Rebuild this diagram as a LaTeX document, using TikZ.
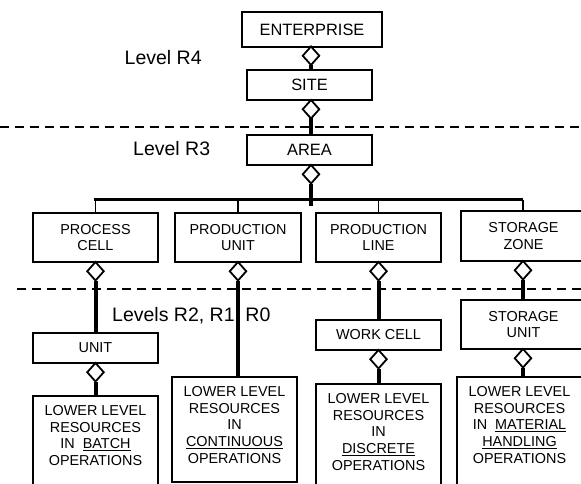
\documentclass[tikz,border=0pt]{standalone}
\usepackage{fontspec}
\setmainfont{Liberation Sans}
\usetikzlibrary{shapes.geometric}
\newcommand\myul[1]{\setbox0\hbox{#1}\rlap{\rule[-2.4pt]{\wd0}{1.4pt}}\box0}
\begin{document}
\begin{tikzpicture}[x=1pt,y=-1pt,
  box/.style={draw, line width=1.9pt, inner sep=0pt, outer sep=0pt, minimum width=125pt, align=center},
  bigtxt/.style={font=\fontsize{16.4}{19}\selectfont},
  smalltxt/.style={font=\fontsize{14.4}{16.8}\selectfont},
  lowtxt/.style={inner sep=0pt, align=center, anchor=north, font=\fontsize{14.4}{16.75}\selectfont},
  dia/.style={draw, shape=diamond, line width=1.8pt, inner sep=0pt, outer sep=0pt, minimum width=16.5pt, minimum height=18.5pt, anchor=north, fill=white},
  conn/.style={line width=4pt},
  thin/.style={line width=1.9pt},
  levtxt/.style={inner sep=0pt, anchor=west, font=\fontsize{19.5}{22}\selectfont},
  dashline/.style={line width=2.6pt, dash pattern=on 9pt off 6pt}
]
\useasboundingbox[fill=white] (0,0) rectangle (581,484);
% dashed level separators
\coordinate (dA1) at (0,127); \coordinate (dA2) at (581,127);
\coordinate (dB1) at (17,289); \coordinate (dB2) at (581,289);
\draw[dashline] (dA1) -- (dA2);
\draw[dashline] (dB1) -- (dB2);
% level labels
\node[levtxt] (lr4) at (124.5,58) {Level R4};
\node[levtxt] (lr3) at (133,149) {Level R3};
\node[levtxt] (lr2) at (112,316) {Levels R2, R1, R0};
% top column
\node[box, bigtxt, minimum width=140pt, minimum height=35pt] (ent) at (312,29.5) {ENTERPRISE};
\node[box, bigtxt, minimum height=30pt] (site) at (309.5,85) {SITE};
\node[box, bigtxt, minimum height=30pt] (area) at (309.5,150) {AREA};
% second row
\node[box, smalltxt, minimum height=49pt] (pc) at (95.5,237.5) {PROCESS\\CELL};
\node[box, smalltxt, minimum width=126pt, minimum height=49pt] (pu) at (238,237.5) {PRODUCTION\\UNIT};
\node[box, smalltxt, minimum height=49pt] (pl) at (378.5,237.5) {PRODUCTION\\LINE};
\node[box, smalltxt, minimum height=50pt] (sz) at (523.5,236) {STORAGE\\ZONE};
% third row
\node[box, smalltxt, minimum height=30pt] (unit) at (95.5,348) {UNIT};
\node[box, smalltxt, minimum height=30pt] (wc) at (378.5,335) {WORK CELL};
\node[box, smalltxt, minimum height=49pt] (su) at (523.5,324.5) {STORAGE\\UNIT};
% lower level boxes
\node[box, minimum height=110pt] (batch) at (95.5,451) {};
\node[box, minimum height=105pt] (cont) at (234.5,429.5) {};
\node[box, minimum height=120pt] (disc) at (378.5,444) {};
\node[box, minimum height=125pt] (mat) at (519.5,439.5) {};
\node[lowtxt] (batchT) at ([yshift=-9pt]batch.north) {LOWER LEVEL\\RESOURCES\\IN\ \ \myul{BATCH}\\OPERATIONS};
\node[lowtxt] (contT) at ([yshift=-9pt]cont.north) {LOWER LEVEL\\RESOURCES\\IN\\\myul{CONTINUOUS}\\OPERATIONS};
\node[lowtxt] (discT) at ([yshift=-9pt]disc.north) {LOWER LEVEL\\RESOURCES\\IN\\\myul{DISCRETE}\\OPERATIONS};
\node[lowtxt] (matT) at ([yshift=-9pt]mat.north) {LOWER LEVEL\\RESOURCES\\IN\ \ \myul{MATERIAL}\\\myul{HANDLING}\\OPERATIONS};
% diamonds
\node[dia] (dEnt) at (311,46.5) {};
\node[dia] (dSite) at (311,100) {};
\node[dia] (dArea) at (311,165) {};
\node[dia] (dPc) at (95.5,262) {};
\node[dia] (dPu) at (238,262) {};
\node[dia] (dPl) at (378.5,262) {};
\node[dia] (dSz) at (523,261) {};
\node[dia] (dUnit) at (95.5,363) {};
\node[dia] (dWc) at (378.5,350) {};
\node[dia] (dSu) at (523,349) {};
% bus
\coordinate (busL) at (94,199.5);
\coordinate (busR) at (523,199.5);
\coordinate (busEnd) at (311,205.5);
\draw[line width=2.2pt] (busL) -- (busR);
\draw[thin] (pc.north) -- (pc.north |- busL);
\draw[thin] (pu.north) -- (pu.north |- busL);
\draw[thin] (pl.north) -- (pl.north |- busL);
\draw[thin] (busR) -- (busR |- sz.north);
% thick connectors
\draw[conn] (dEnt.south) -- (dEnt.south |- site.north);
\draw[conn] (dSite.south) -- (dSite.south |- area.north);
\draw[conn] (dArea.south) -- (busEnd);
\draw[conn] (dPc.south) -- (unit.north);
\draw[conn] (dUnit.south) -- (batch.north);
\draw[conn] (dPu.south) -- (dPu.south |- cont.north);
\draw[conn] (dPl.south) -- (wc.north);
\draw[conn] (dWc.south) -- (disc.north);
\draw[conn] (dSz.south) -- (dSz.south |- su.north);
\draw[conn] (dSu.south) -- (dSu.south |- mat.north);
\end{tikzpicture}
\end{document}
